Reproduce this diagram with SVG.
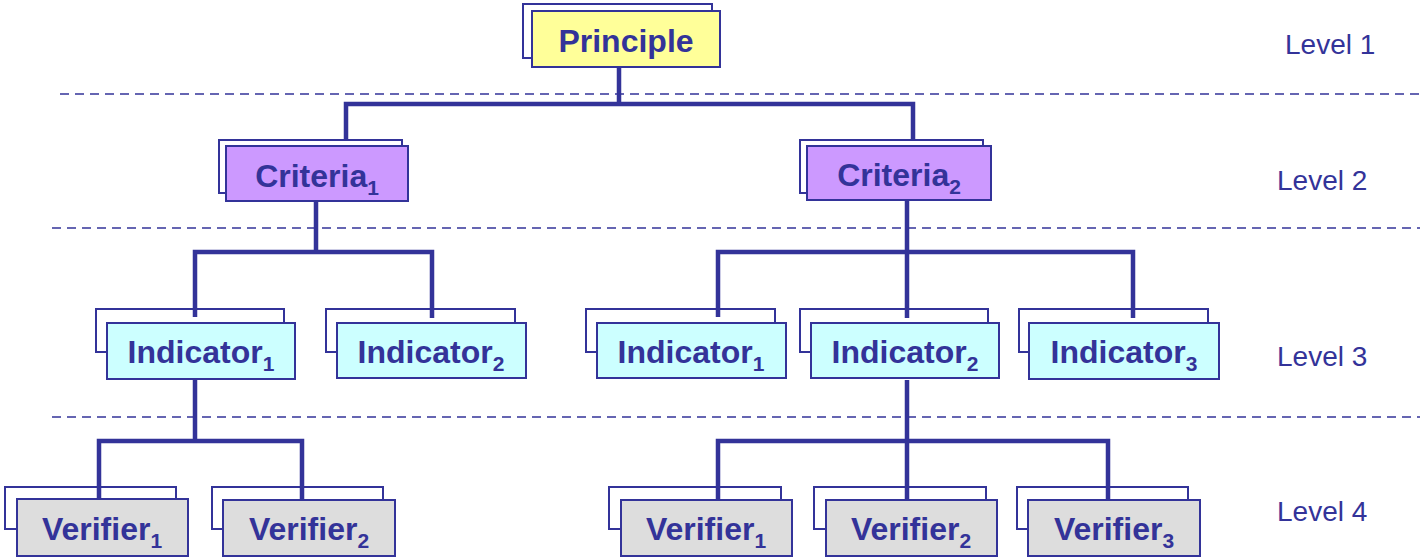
<svg xmlns="http://www.w3.org/2000/svg" width="1425" height="557" viewBox="0 0 1425 557">
<style>
.back{fill:#ffffff;stroke:#333399;stroke-width:2}
.front{stroke:#333399;stroke-width:2}
.p{fill:#ffff99}.c{fill:#cc99ff}.i{fill:#ccffff}.v{fill:#dddddd}
.lbl{font-family:"Liberation Sans",Arial,sans-serif;font-weight:bold;font-size:32px;fill:#333399;text-anchor:middle}
.sub{font-size:21px}
.lvl{font-family:"Liberation Sans",Arial,sans-serif;font-size:28px;fill:#333399}
.dash{stroke:#333399;stroke-width:1.5;stroke-dasharray:9 6;fill:none}
.conn{stroke:#333399;stroke-width:4.5;fill:none;stroke-linejoin:miter}
</style>
<rect width="1425" height="557" fill="#ffffff"/>
<g id="separators">
<line class="dash" x1="60" y1="94" x2="1420" y2="94"/>
<line class="dash" x1="52" y1="228" x2="1420" y2="228"/>
<line class="dash" x1="52" y1="417" x2="1420" y2="417"/>
</g>
<g id="levels">
<text class="lvl" x="1285" y="54">Level 1</text>
<text class="lvl" x="1277" y="190">Level 2</text>
<text class="lvl" x="1277" y="366">Level 3</text>
<text class="lvl" x="1277" y="521">Level 4</text>
</g>
<g id="principle">
<rect class="back" x="523" y="4" width="189" height="54"/>
<rect class="front p" x="532" y="11" width="188" height="56"/>
<text class="lbl" x="626" y="52">Principle</text>
</g>
<g id="criteria1">
<rect class="back" x="219" y="140" width="183" height="53"/>
<rect class="front c" x="226" y="146" width="182" height="55"/>
<text class="lbl" x="317" y="187">Criteria<tspan class="sub" dy="8">1</tspan></text>
</g>
<g id="criteria2">
<rect class="back" x="800" y="140" width="183" height="53"/>
<rect class="front c" x="807" y="146" width="184" height="54"/>
<text class="lbl" x="899" y="186">Criteria<tspan class="sub" dy="8">2</tspan></text>
</g>
<g id="indicator1a">
<rect class="back" x="96" y="309" width="188" height="43"/>
<rect class="front i" x="107" y="323" width="188" height="56"/>
<text class="lbl" x="201" y="363">Indicator<tspan class="sub" dy="8">1</tspan></text>
</g>
<g id="indicator2a">
<rect class="back" x="326" y="309" width="189" height="43"/>
<rect class="front i" x="337" y="323" width="189" height="55"/>
<text class="lbl" x="431" y="363">Indicator<tspan class="sub" dy="8">2</tspan></text>
</g>
<g id="indicator1b">
<rect class="back" x="586" y="309" width="189" height="43"/>
<rect class="front i" x="597" y="323" width="189" height="55"/>
<text class="lbl" x="691" y="363">Indicator<tspan class="sub" dy="8">1</tspan></text>
</g>
<g id="indicator2b">
<rect class="back" x="800" y="309" width="188" height="43"/>
<rect class="front i" x="811" y="323" width="188" height="55"/>
<text class="lbl" x="905" y="363">Indicator<tspan class="sub" dy="8">2</tspan></text>
</g>
<g id="indicator3b">
<rect class="back" x="1019" y="309" width="189" height="43"/>
<rect class="front i" x="1029" y="323" width="190" height="56"/>
<text class="lbl" x="1124" y="363">Indicator<tspan class="sub" dy="8">3</tspan></text>
</g>
<g id="verifier1a">
<rect class="back" x="5" y="487" width="171" height="42"/>
<rect class="front v" x="17" y="499" width="171" height="57"/>
<text class="lbl" x="102" y="540">Verifier<tspan class="sub" dy="8">1</tspan></text>
</g>
<g id="verifier2a">
<rect class="back" x="212" y="487" width="171" height="42"/>
<rect class="front v" x="223" y="500" width="172" height="56"/>
<text class="lbl" x="309" y="540">Verifier<tspan class="sub" dy="8">2</tspan></text>
</g>
<g id="verifier1b">
<rect class="back" x="609" y="487" width="172" height="42"/>
<rect class="front v" x="621" y="500" width="171" height="56"/>
<text class="lbl" x="706" y="540">Verifier<tspan class="sub" dy="8">1</tspan></text>
</g>
<g id="verifier2b">
<rect class="back" x="814" y="487" width="172" height="42"/>
<rect class="front v" x="826" y="500" width="171" height="56"/>
<text class="lbl" x="911" y="540">Verifier<tspan class="sub" dy="8">2</tspan></text>
</g>
<g id="verifier3b">
<rect class="back" x="1017" y="487" width="171" height="42"/>
<rect class="front v" x="1028" y="500" width="172" height="56"/>
<text class="lbl" x="1114" y="540">Verifier<tspan class="sub" dy="8">3</tspan></text>
</g>
<g id="connectors">
<path class="conn" d="M619,68 V104 M346,139 V104 H913 V139"/>
<path class="conn" d="M316,202 V252 M195,317 V252 H432 V318"/>
<path class="conn" d="M907,201 V318 M718,317 V252 H1133 V318"/>
<path class="conn" d="M195,380 V441 M99,499 V441 H302 V499"/>
<path class="conn" d="M907,380 V499 M718,499 V441 H1108 V499"/>
</g>
</svg>
